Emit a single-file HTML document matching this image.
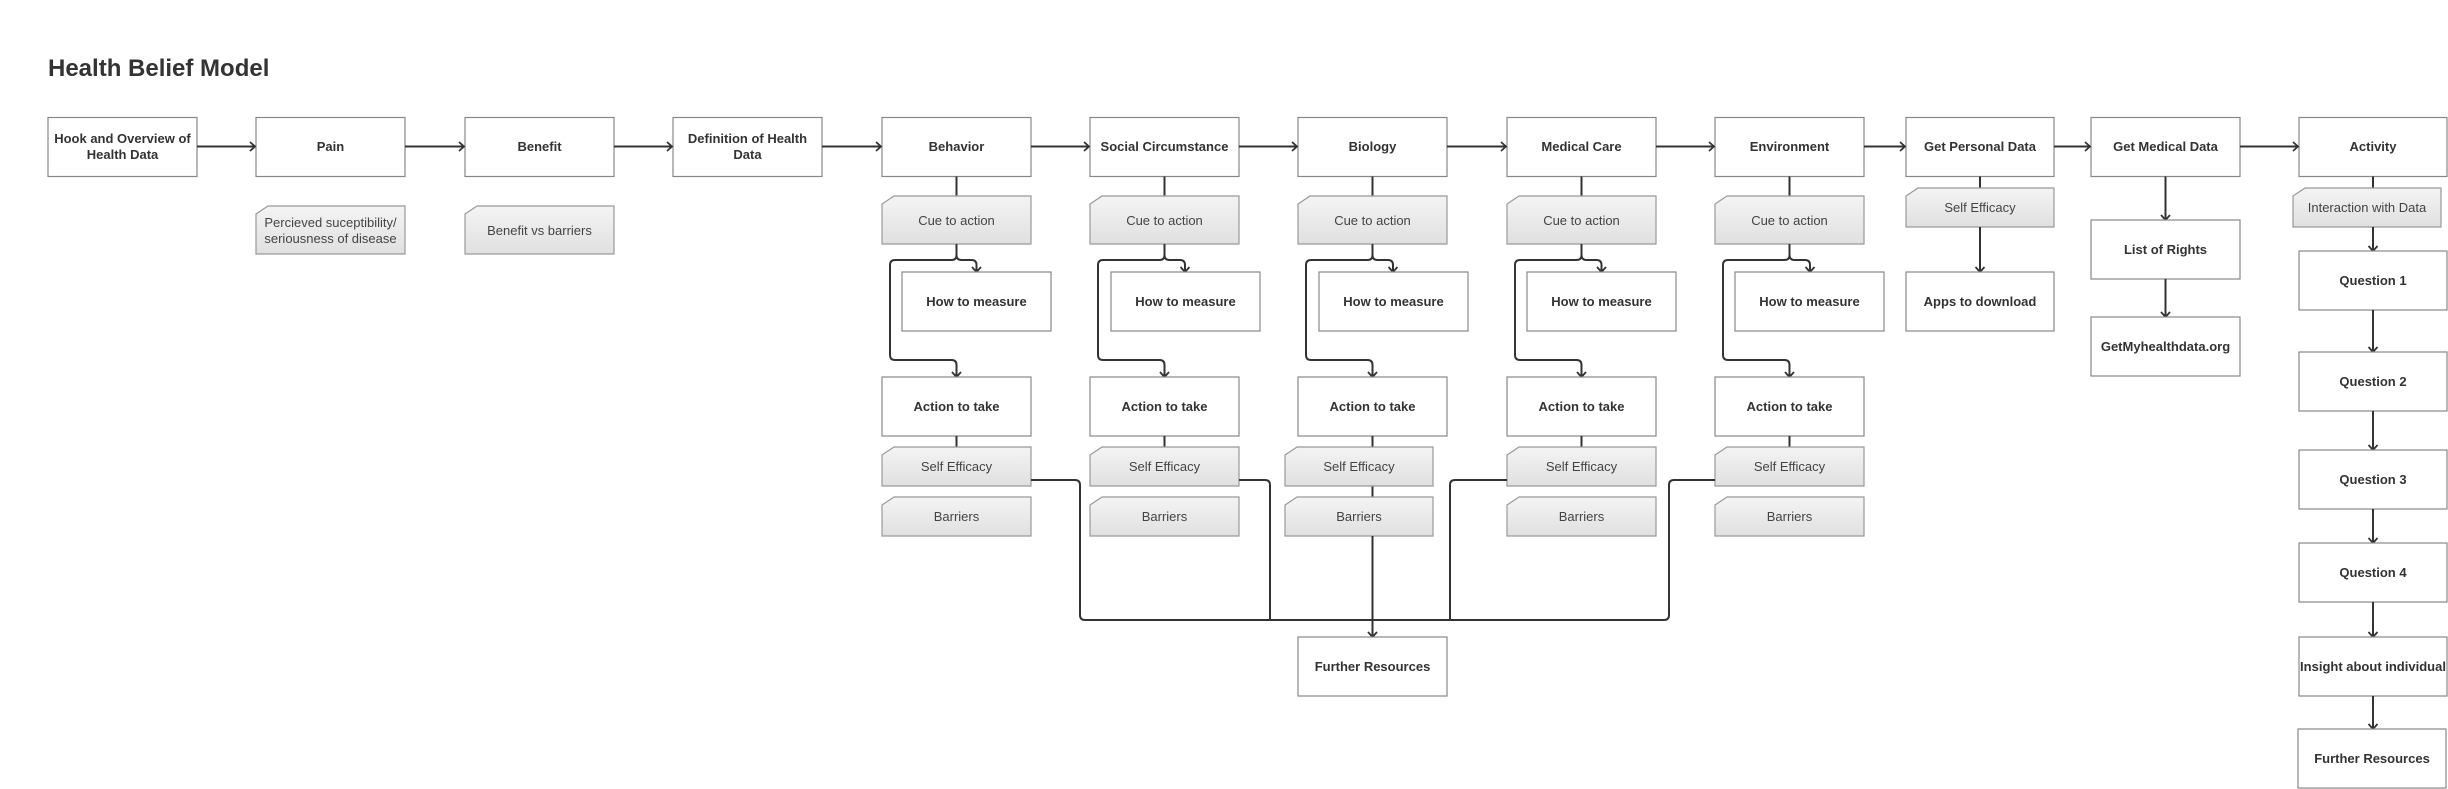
<!DOCTYPE html>
<html><head><meta charset="utf-8">
<style>
html,body{margin:0;padding:0;background:#fff;}
svg{display:block;}
text{font-family:"Liberation Sans",Arial,sans-serif;fill:#333;}
.b{font-weight:bold;font-size:13px;}
.n{font-size:13px;fill:#444;}
.box{fill:#fff;stroke:#888;stroke-width:1.2;}
.note{fill:url(#g);stroke:#999;stroke-width:1.2;}
.c{fill:none;stroke:#333;stroke-width:2;}
</style></head><body>
<svg width="2448" height="789" viewBox="0 0 2448 789" xmlns="http://www.w3.org/2000/svg">
<defs>
<linearGradient id="g" x1="0" y1="0" x2="0" y2="1"><stop offset="0" stop-color="#f4f4f4"/><stop offset="1" stop-color="#e0e0e0"/></linearGradient>
<marker id="a" markerWidth="12" markerHeight="12" refX="9" refY="6" orient="auto" markerUnits="userSpaceOnUse"><polyline points="4,1.5 9,6 4,10.5" fill="none" stroke="#333" stroke-width="1.8"/></marker>
</defs>
<text x="48" y="76" style="font-size:24px;font-weight:bold;fill:#333">Health Belief Model</text>

<!-- main row boxes -->
<g>
<rect class="box" x="48" y="117.5" width="149" height="59"/>
<text class="b" text-anchor="middle" x="122.5" y="143">Hook and Overview of</text>
<text class="b" text-anchor="middle" x="122.5" y="159">Health Data</text>
<rect class="box" x="256" y="117.5" width="149" height="59"/><text class="b" text-anchor="middle" x="330.5" y="151">Pain</text>
<rect class="box" x="465" y="117.5" width="149" height="59"/><text class="b" text-anchor="middle" x="539.5" y="151">Benefit</text>
<rect class="box" x="673" y="117.5" width="149" height="59"/>
<text class="b" text-anchor="middle" x="747.5" y="143">Definition of Health</text>
<text class="b" text-anchor="middle" x="747.5" y="159">Data</text>
<rect class="box" x="882" y="117.5" width="149" height="59"/><text class="b" text-anchor="middle" x="956.5" y="151">Behavior</text>
<rect class="box" x="1090" y="117.5" width="149" height="59"/><text class="b" text-anchor="middle" x="1164.5" y="151">Social Circumstance</text>
<rect class="box" x="1298" y="117.5" width="149" height="59"/><text class="b" text-anchor="middle" x="1372.5" y="151">Biology</text>
<rect class="box" x="1507" y="117.5" width="149" height="59"/><text class="b" text-anchor="middle" x="1581.5" y="151">Medical Care</text>
<rect class="box" x="1715" y="117.5" width="149" height="59"/><text class="b" text-anchor="middle" x="1789.5" y="151">Environment</text>
<rect class="box" x="1906" y="117.5" width="148" height="59"/><text class="b" text-anchor="middle" x="1980" y="151">Get Personal Data</text>
<rect class="box" x="2091" y="117.5" width="149" height="59"/><text class="b" text-anchor="middle" x="2165.5" y="151">Get Medical Data</text>
<rect class="box" x="2299" y="117.5" width="148" height="59"/><text class="b" text-anchor="middle" x="2373" y="151">Activity</text>
</g>
<!-- main row arrows -->
<g class="c" marker-end="url(#a)">
<path class="c" marker-end="url(#a)" d="M197,146.5H255"/>
<path class="c" marker-end="url(#a)" d="M405,146.5H464"/>
<path class="c" marker-end="url(#a)" d="M614,146.5H672"/>
<path class="c" marker-end="url(#a)" d="M822,146.5H881"/>
<path class="c" marker-end="url(#a)" d="M1031,146.5H1089"/>
<path class="c" marker-end="url(#a)" d="M1239,146.5H1297"/>
<path class="c" marker-end="url(#a)" d="M1447,146.5H1506"/>
<path class="c" marker-end="url(#a)" d="M1656,146.5H1714"/>
<path class="c" marker-end="url(#a)" d="M1864,146.5H1905"/>
<path class="c" marker-end="url(#a)" d="M2054,146.5H2090"/>
<path class="c" marker-end="url(#a)" d="M2240,146.5H2298"/>
</g>

<!-- Pain / Benefit notes -->
<path class="note" d="M256,214L268,206H405V254H256Z"/>
<text class="n" text-anchor="middle" x="330.5" y="227">Percieved suceptibility/</text>
<text class="n" text-anchor="middle" x="330.5" y="243">seriousness of disease</text>
<path class="note" d="M465,214L477,206H614V254H465Z"/>
<text class="n" text-anchor="middle" x="539.5" y="235">Benefit vs barriers</text>

<!-- Column: Behavior -->
<g>
<path class="c" d="M956.5,176.5V196"/>
<path class="note" d="M882,204L894,196H1031V244H882Z"/><text class="n" text-anchor="middle" x="956.5" y="225">Cue to action</text>
<path class="c" marker-end="url(#a)" d="M956.5,244V255Q956.5,260 961.5,260H971.5Q976.5,260 976.5,265V272"/>
<path class="c" marker-end="url(#a)" d="M956.5,255Q956.5,260 951.5,260H895Q890,260 890,265V355Q890,360 895,360H951.5Q956.5,360 956.5,365V377"/>
<rect class="box" x="902" y="272" width="149" height="59"/><text class="b" text-anchor="middle" x="976.5" y="306">How to measure</text>
<rect class="box" x="882" y="377" width="149" height="59"/><text class="b" text-anchor="middle" x="956.5" y="411">Action to take</text>
<path class="c" d="M956.5,436V447"/>
<path class="note" d="M882,455L894,447H1031V486H882Z"/><text class="n" text-anchor="middle" x="956.5" y="471">Self Efficacy</text>
<path class="note" d="M882,505L894,497H1031V536H882Z"/><text class="n" text-anchor="middle" x="956.5" y="521">Barriers</text>
</g>
<!-- Column: Social -->
<g>
<path class="c" d="M1164.5,176.5V196"/>
<path class="note" d="M1090,204L1102,196H1239V244H1090Z"/><text class="n" text-anchor="middle" x="1164.5" y="225">Cue to action</text>
<path class="c" marker-end="url(#a)" d="M1164.5,244V255Q1164.5,260 1169.5,260H1180Q1185,260 1185,265V272"/>
<path class="c" marker-end="url(#a)" d="M1164.5,255Q1164.5,260 1159.5,260H1103Q1098,260 1098,265V355Q1098,360 1103,360H1159.5Q1164.5,360 1164.5,365V377"/>
<rect class="box" x="1111" y="272" width="149" height="59"/><text class="b" text-anchor="middle" x="1185.5" y="306">How to measure</text>
<rect class="box" x="1090" y="377" width="149" height="59"/><text class="b" text-anchor="middle" x="1164.5" y="411">Action to take</text>
<path class="c" d="M1164.5,436V447"/>
<path class="note" d="M1090,455L1102,447H1239V486H1090Z"/><text class="n" text-anchor="middle" x="1164.5" y="471">Self Efficacy</text>
<path class="note" d="M1090,505L1102,497H1239V536H1090Z"/><text class="n" text-anchor="middle" x="1164.5" y="521">Barriers</text>
</g>
<!-- Column: Biology -->
<g>
<path class="c" d="M1372.5,176.5V196"/>
<path class="note" d="M1298,204L1310,196H1447V244H1298Z"/><text class="n" text-anchor="middle" x="1372.5" y="225">Cue to action</text>
<path class="c" marker-end="url(#a)" d="M1372.5,244V255Q1372.5,260 1377.5,260H1388Q1393,260 1393,265V272"/>
<path class="c" marker-end="url(#a)" d="M1372.5,255Q1372.5,260 1367.5,260H1311Q1306,260 1306,265V355Q1306,360 1311,360H1367.5Q1372.5,360 1372.5,365V377"/>
<rect class="box" x="1319" y="272" width="149" height="59"/><text class="b" text-anchor="middle" x="1393.5" y="306">How to measure</text>
<rect class="box" x="1298" y="377" width="149" height="59"/><text class="b" text-anchor="middle" x="1372.5" y="411">Action to take</text>
<path class="c" d="M1372.5,436V447M1372.5,486V497"/>
<path class="note" d="M1285,455L1297,447H1433V486H1285Z"/><text class="n" text-anchor="middle" x="1359" y="471">Self Efficacy</text>
<path class="note" d="M1285,505L1297,497H1433V536H1285Z"/><text class="n" text-anchor="middle" x="1359" y="521">Barriers</text>
</g>
<!-- Column: Medical -->
<g>
<path class="c" d="M1581.5,176.5V196"/>
<path class="note" d="M1507,204L1519,196H1656V244H1507Z"/><text class="n" text-anchor="middle" x="1581.5" y="225">Cue to action</text>
<path class="c" marker-end="url(#a)" d="M1581.5,244V255Q1581.5,260 1586.5,260H1596.5Q1601.5,260 1601.5,265V272"/>
<path class="c" marker-end="url(#a)" d="M1581.5,255Q1581.5,260 1576.5,260H1520Q1515,260 1515,265V355Q1515,360 1520,360H1576.5Q1581.5,360 1581.5,365V377"/>
<rect class="box" x="1527" y="272" width="149" height="59"/><text class="b" text-anchor="middle" x="1601.5" y="306">How to measure</text>
<rect class="box" x="1507" y="377" width="149" height="59"/><text class="b" text-anchor="middle" x="1581.5" y="411">Action to take</text>
<path class="c" d="M1581.5,436V447"/>
<path class="note" d="M1507,455L1519,447H1656V486H1507Z"/><text class="n" text-anchor="middle" x="1581.5" y="471">Self Efficacy</text>
<path class="note" d="M1507,505L1519,497H1656V536H1507Z"/><text class="n" text-anchor="middle" x="1581.5" y="521">Barriers</text>
</g>
<!-- Column: Environment -->
<g>
<path class="c" d="M1789.5,176.5V196"/>
<path class="note" d="M1715,204L1727,196H1864V244H1715Z"/><text class="n" text-anchor="middle" x="1789.5" y="225">Cue to action</text>
<path class="c" marker-end="url(#a)" d="M1789.5,244V255Q1789.5,260 1794.5,260H1805Q1810,260 1810,265V272"/>
<path class="c" marker-end="url(#a)" d="M1789.5,255Q1789.5,260 1784.5,260H1728Q1723,260 1723,265V355Q1723,360 1728,360H1784.5Q1789.5,360 1789.5,365V377"/>
<rect class="box" x="1735" y="272" width="149" height="59"/><text class="b" text-anchor="middle" x="1809.5" y="306">How to measure</text>
<rect class="box" x="1715" y="377" width="149" height="59"/><text class="b" text-anchor="middle" x="1789.5" y="411">Action to take</text>
<path class="c" d="M1789.5,436V447"/>
<path class="note" d="M1715,455L1727,447H1864V486H1715Z"/><text class="n" text-anchor="middle" x="1789.5" y="471">Self Efficacy</text>
<path class="note" d="M1715,505L1727,497H1864V536H1715Z"/><text class="n" text-anchor="middle" x="1789.5" y="521">Barriers</text>
</g>

<!-- bus to Further Resources -->
<path class="c" d="M1031,480H1075Q1080,480 1080,485V615Q1080,620 1085,620H1664Q1669,620 1669,615V485Q1669,480 1674,480H1715"/>
<path class="c" d="M1239,480H1265Q1270,480 1270,485V620"/>
<path class="c" d="M1507,480H1455Q1450,480 1450,485V620"/>
<path class="c" marker-end="url(#a)" d="M1372.5,536V637"/>
<rect class="box" x="1298" y="637" width="149" height="59"/><text class="b" text-anchor="middle" x="1372.5" y="671">Further Resources</text>

<!-- Get Personal Data -->
<path class="c" d="M1980,176.5V188"/>
<path class="note" d="M1906,196L1918,188H2054V227H1906Z"/><text class="n" text-anchor="middle" x="1980" y="212">Self Efficacy</text>
<path class="c" marker-end="url(#a)" d="M1980,227V272"/>
<rect class="box" x="1906" y="272" width="148" height="59"/><text class="b" text-anchor="middle" x="1980" y="306">Apps to download</text>

<!-- Get Medical Data -->
<path class="c" marker-end="url(#a)" d="M2165.5,176.5V220"/>
<rect class="box" x="2091" y="220" width="149" height="59"/><text class="b" text-anchor="middle" x="2165.5" y="254">List of Rights</text>
<path class="c" marker-end="url(#a)" d="M2165.5,279V317"/>
<rect class="box" x="2091" y="317" width="149" height="59"/><text class="b" text-anchor="middle" x="2165.5" y="351">GetMyhealthdata.org</text>

<!-- Activity -->
<path class="c" d="M2373,176.5V188"/>
<path class="note" d="M2293,196L2305,188H2441V227H2293Z"/><text class="n" text-anchor="middle" x="2367" y="212">Interaction with Data</text>
<path class="c" marker-end="url(#a)" d="M2373,227V251"/>
<rect class="box" x="2299" y="251" width="148" height="59"/><text class="b" text-anchor="middle" x="2373" y="285">Question 1</text>
<path class="c" marker-end="url(#a)" d="M2373,310V352"/>
<rect class="box" x="2299" y="352" width="148" height="59"/><text class="b" text-anchor="middle" x="2373" y="386">Question 2</text>
<path class="c" marker-end="url(#a)" d="M2373,411V450"/>
<rect class="box" x="2299" y="450" width="148" height="59"/><text class="b" text-anchor="middle" x="2373" y="484">Question 3</text>
<path class="c" marker-end="url(#a)" d="M2373,509V543"/>
<rect class="box" x="2299" y="543" width="148" height="59"/><text class="b" text-anchor="middle" x="2373" y="577">Question 4</text>
<path class="c" marker-end="url(#a)" d="M2373,602V637"/>
<rect class="box" x="2299" y="637" width="148" height="59"/><text class="b" text-anchor="middle" x="2373" y="671">Insight about individual</text>
<path class="c" marker-end="url(#a)" d="M2373,696V729"/>
<rect class="box" x="2298" y="729" width="148" height="59"/><text class="b" text-anchor="middle" x="2372" y="763">Further Resources</text>
</svg>
</body></html>
